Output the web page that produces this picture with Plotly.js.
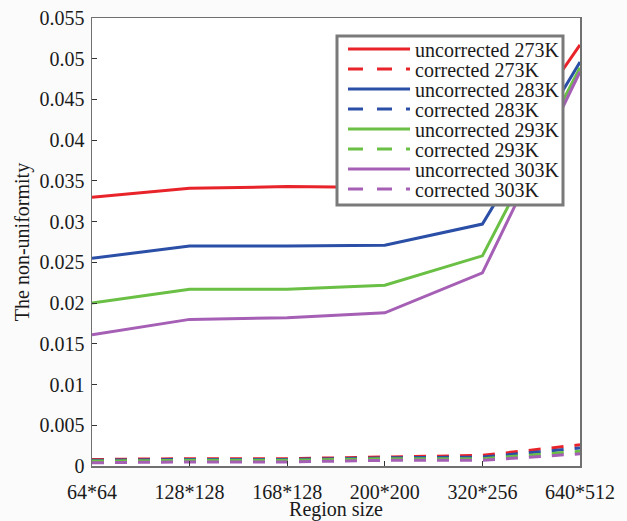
<!DOCTYPE html>
<html>
<head>
<meta charset="utf-8">
<script src="https://cdn.plot.ly/plotly-3.0.1.min.js"></script>
<style>html,body{margin:0;padding:0;background:#fbfbfb;}</style>
</head>
<body>
<div id="chart" style="width:627px;height:521px;"></div>
<script>
const categories = ["64*64", "128*128", "168*128", "200*200", "320*256", "640*512"];

const uncorrected273 = [0.0330, 0.0341, 0.0343, 0.0342, 0.0344, 0.0517];
const corrected273   = [0.0008, 0.0009, 0.0009, 0.0011, 0.0013, 0.0026];
const uncorrected283 = [0.0255, 0.0270, 0.0270, 0.0271, 0.0297, 0.0496];
const corrected283   = [0.0007, 0.0008, 0.0008, 0.0010, 0.0011, 0.0022];
const uncorrected293 = [0.0200, 0.0217, 0.0217, 0.0222, 0.0258, 0.0489];
const corrected293   = [0.0006, 0.0007, 0.0007, 0.0009, 0.0009, 0.0018];
const uncorrected303 = [0.0161, 0.0180, 0.0182, 0.0188, 0.0237, 0.0484];
const corrected303   = [0.0004, 0.0005, 0.0005, 0.0007, 0.0007, 0.0015];

const seriesNames = ["uncorrected 273K", "corrected 273K", "uncorrected 283K", "corrected 283K",
                     "uncorrected 293K", "corrected 293K", "uncorrected 303K", "corrected 303K"];
const seriesData = [uncorrected273, corrected273, uncorrected283, corrected283,
                    uncorrected293, corrected293, uncorrected303, corrected303];
const colors = ["#e8232a", "#e8232a", "#2b4fa6", "#2b4fa6", "#6abf45", "#6abf45", "#a55fb5", "#a55fb5"];

const FAMILY = '"Liberation Serif", "Times New Roman", serif';
const TXT = "#1a1a1a";

const traces = seriesData.map((d, i) => ({
  x: categories,
  y: d,
  name: seriesNames[i],
  type: "scatter",
  mode: "lines",
  showlegend: false,
  line: {color: colors[i], width: 3, dash: (i % 2 === 1) ? "12px,11px" : "solid"}
}));

// Plot area geometry (pixels)
const W = 627, H = 521;
const M = {l: 92, r: 47, t: 18, b: 55};
const PW = W - M.l - M.r, PH = H - M.t - M.b;
const px = x => (x - M.l) / PW;          // pixel x -> paper x
const py = y => (H - M.b - y) / PH;      // pixel y -> paper y

// Legend (drawn as layout decoration, 20px text with 20px row pitch like the original)
const LEG = {x0: 337, x1: 563, y0: 36, y1: 205, firstRow: 49, pitch: 20, lineX0: 348, lineX1: 410, textX: 413};
const shapes = [{
  type: "rect", xref: "paper", yref: "paper", layer: "above",
  x0: px(LEG.x0), x1: px(LEG.x1), y0: py(LEG.y1), y1: py(LEG.y0),
  fillcolor: "#ffffff", line: {color: "#7a7a7a", width: 3}
}];
const annotations = [];
seriesNames.forEach((name, i) => {
  const yc = LEG.firstRow + i * LEG.pitch;
  shapes.push({
    type: "line", xref: "paper", yref: "paper", layer: "above",
    x0: px(LEG.lineX0), x1: px(LEG.lineX1), y0: py(yc), y1: py(yc),
    line: {color: colors[i], width: 3, dash: (i % 2 === 1) ? "15px,14px" : "solid"}
  });
  annotations.push({
    xref: "paper", yref: "paper", x: px(LEG.textX), y: py(yc + 1),
    xanchor: "left", yanchor: "middle", showarrow: false,
    text: name, font: {family: FAMILY, size: 20, color: TXT}
  });
});

const layout = {
  width: W, height: H,
  paper_bgcolor: "#fbfbfb",
  plot_bgcolor: "#ffffff",
  font: {family: FAMILY, size: 20, color: TXT},
  margin: M,
  showlegend: false,
  shapes: shapes,
  annotations: annotations,
  xaxis: {
    type: "category",
    range: [0, 5],
    showgrid: false, zeroline: false,
    showline: true, linecolor: "#707070", linewidth: 1.5, mirror: true,
    ticks: "inside", ticklen: 5, tickcolor: "#333",
    ticklabelstandoff: 7,
    tickfont: {family: FAMILY, size: 20, color: TXT},
    title: {text: "Region size", font: {family: FAMILY, size: 20, color: TXT}, standoff: 0}
  },
  yaxis: {
    range: [0, 0.055],
    dtick: 0.005, tick0: 0,
    showgrid: false, zeroline: false,
    showline: true, linecolor: "#707070", linewidth: 1.5, mirror: true,
    ticks: "inside", ticklen: 5, tickcolor: "#333",
    ticklabelstandoff: 2,
    tickfont: {family: FAMILY, size: 20, color: TXT},
    title: {text: "The non-uniformity", font: {family: FAMILY, size: 20, color: TXT}, standoff: 4}
  }
};

Plotly.newPlot("chart", traces, layout, {displayModeBar: false, staticPlot: true});
</script>
</body>
</html>
